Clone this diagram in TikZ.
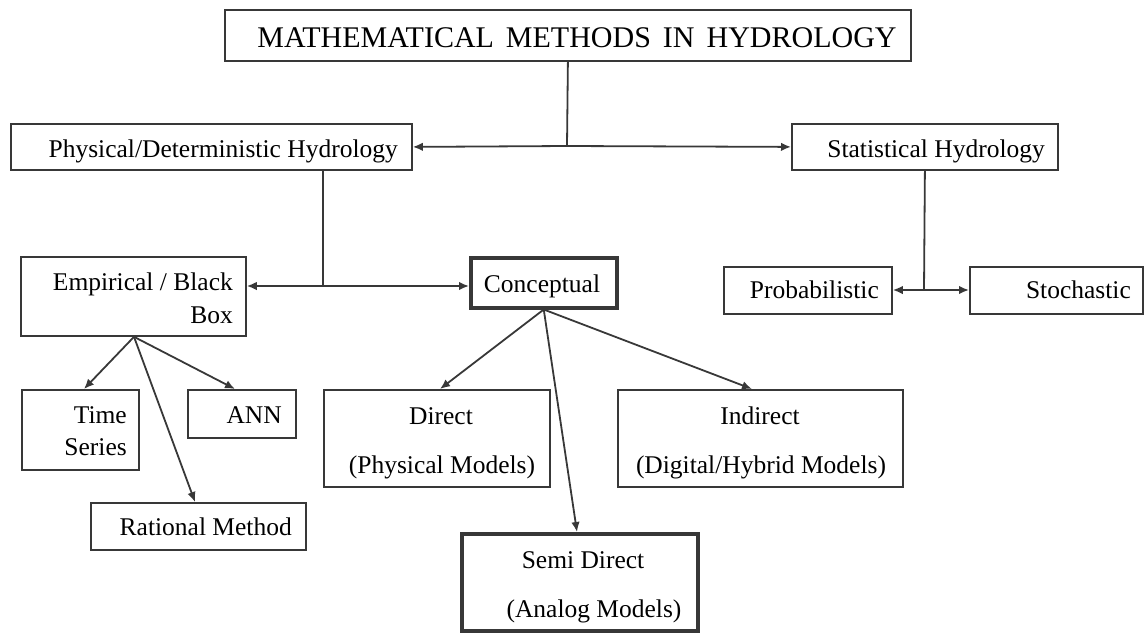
\documentclass[tikz,border=0pt]{standalone}
\usepackage{fontspec}
\setmainfont{Liberation Serif}
\usetikzlibrary{arrows.meta}
\definecolor{linec}{HTML}{383838}
\begin{document}
\begin{tikzpicture}[x=1pt,y=-1pt,
  box/.style={draw=linec, line width=1.8pt, inner sep=0pt, anchor=north west},
  thickbox/.style={box, line width=3.5pt},
  lbl/.style={font=\fontsize{25.5}{30}\selectfont, inner sep=0pt, text=black},
  conn/.style={draw=linec, line width=1.8pt},
  arr/.style={conn, -{Latex[length=10pt,width=8.5pt]}},
]
\useasboundingbox (0,0) rectangle (1145,632);

% boxes
\node[box, minimum width=686pt, minimum height=51pt] (title) at (224,9) {};
\node[box, minimum width=401pt, minimum height=46pt] (phys) at (10,123) {};
\node[box, minimum width=266pt, minimum height=46pt] (stat) at (791,123) {};
\node[box, minimum width=225pt, minimum height=79pt] (emp) at (20,256) {};
\node[thickbox, minimum width=146pt, minimum height=50pt] (conc) at (469,256) {};
\node[box, minimum width=168pt, minimum height=47pt] (prob) at (723,266) {};
\node[box, minimum width=173pt, minimum height=47pt] (stoch) at (969,266) {};
\node[box, minimum width=117pt, minimum height=80pt] (ts) at (21,389) {};
\node[box, minimum width=108pt, minimum height=48pt] (ann) at (187,389) {};
\node[box, minimum width=215pt, minimum height=47pt] (rat) at (90,502) {};
\node[box, minimum width=226pt, minimum height=97pt] (direct) at (323,389) {};
\node[box, minimum width=285pt, minimum height=97pt] (indirect) at (617,389) {};
\node[thickbox, minimum width=236pt, minimum height=97pt] (semi) at (460,532) {};

% texts
\node[lbl, font=\fontsize{30}{34}\selectfont, anchor=base] (titleT) at (577,47) {MATHEMATICAL\hspace{0.15em} METHODS\hspace{0.15em} IN\hspace{0.15em} HYDROLOGY};
\node[lbl, anchor=base east] (physT) at (398,157) {Physical/Deterministic Hydrology};
\node[lbl, anchor=base east] (statT) at (1045,157) {Statistical Hydrology};
\node[lbl, anchor=base east] (empT1) at (233,290) {Empirical / Black};
\node[lbl, anchor=base east] (empT2) at (233,323) {Box};
\node[lbl, anchor=base] (concT) at (542,292) {Conceptual};
\node[lbl, anchor=base east] (probT) at (879,298) {Probabilistic};
\node[lbl, anchor=base east] (stochT) at (1131,298) {Stochastic};
\node[lbl, anchor=base east] (tsT1) at (127,423) {Time};
\node[lbl, anchor=base east] (tsT2) at (127,455) {Series};
\node[lbl, anchor=base east] (annT) at (282,423) {ANN};
\node[lbl, anchor=base east] (ratT) at (292,535) {Rational Method};
\node[lbl, anchor=base] (directT1) at (441,424) {Direct};
\node[lbl, anchor=base] (directT2) at (442,473) {(Physical Models)};
\node[lbl, anchor=base] (indirectT1) at (760,424) {Indirect};
\node[lbl, anchor=base] (indirectT2) at (761,473) {(Digital/Hybrid Models)};
\node[lbl, anchor=base] (semiT1) at (583,568) {Semi Direct};
\node[lbl, anchor=base] (semiT2) at (594,617) {(Analog Models)};

% connectors
\coordinate (j1) at (567,146);
\draw[conn] (title.south) -- (j1);
\draw[arr] (j1) -- (phys.east);
\draw[arr] (j1) -- (stat.west);

\coordinate (j2) at (322.6,286);
\draw[conn] (j2 |- phys.south) -- (j2);
\draw[arr] (j2) -- (j2 -| emp.east);
\draw[arr] (j2) -- (j2 -| conc.west);

\coordinate (j3) at (924,290);
\draw[conn] (stat.south) -- (j3);
\draw[arr] (j3) -- (j3 -| prob.east);
\draw[arr] (j3) -- (j3 -| stoch.west);

\coordinate (e0) at ([xshift=114pt]emp.south west);
\draw[arr] (e0) -- ([xshift=63pt]ts.north west);
\draw[arr] (e0) -- ([xshift=48pt]ann.north west);
\draw[arr] (e0) -- ([xshift=105pt]rat.north west);

\draw[arr] (conc.south) -- ([xshift=117pt]direct.north west);
\draw[arr] (conc.south) -- ([xshift=135pt]indirect.north west);
\draw[arr] (conc.south) -- ([xshift=117pt]semi.north west);
\end{tikzpicture}
\end{document}
